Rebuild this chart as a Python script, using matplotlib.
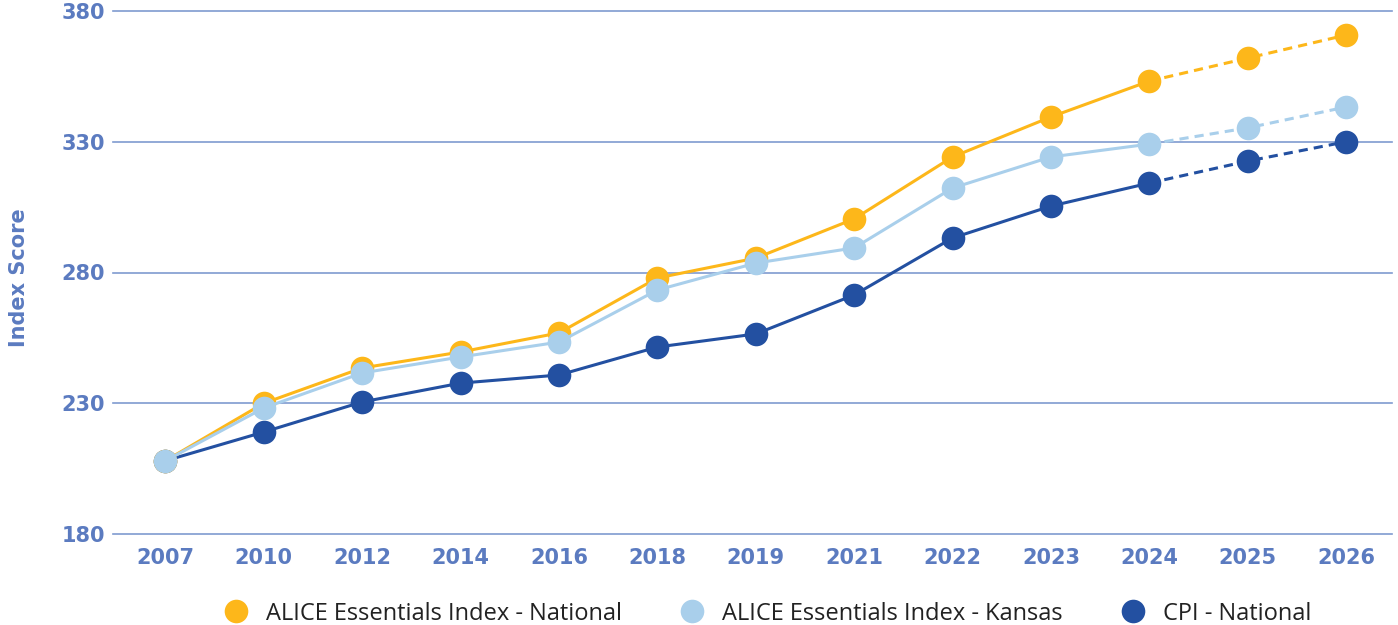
import matplotlib.pyplot as plt
from matplotlib.lines import Line2D

years = ['2007', '2010', '2012', '2014', '2016', '2018', '2019', '2021',
         '2022', '2023', '2024', '2025', '2026']
national = [208, 230, 243.5, 249.6, 256.9, 277.9, 285.5, 300.5, 324.2, 339.5, 353.2, 362, 370.8]
kansas = [208, 228.2, 241.6, 247.7, 253.4, 273.3, 283.6, 289.4, 312.3, 324.2, 329.1, 335.3, 343.3]
cpi = [208, 219, 230.5, 237.7, 240.8, 251.5, 256.5, 271.4, 293.2, 305.4, 314.2, 322.6, 330]
labels = ['ALICE Essentials Index - National', 'ALICE Essentials Index - Kansas', 'CPI - National']
colors = ['#FDB71A', '#A9CFEB', '#2350A1']
proj_start = 10  # 2024 onward is projected

fig = plt.figure(figsize=(13.98, 6.25), dpi=100)
ax = fig.add_axes([0.081, 0.1456, 0.915, 0.8368])

x = list(range(len(years)))
series = [cpi, national, kansas]
cols = [colors[2], colors[0], colors[1]]
for i, (vals, c) in enumerate(zip(series, cols)):
    z = 3 + i
    ax.plot(x[:proj_start + 1], vals[:proj_start + 1], color=c, lw=2.2, zorder=z)
    ax.plot(x[proj_start:], vals[proj_start:], color=c, lw=2.2, ls=(0, (3, 2)), zorder=z)
    ax.plot(x, vals, 'o', color=c, ms=17, mec='none', zorder=z)

ax.set_xlim(-0.53, 12.47)
ax.set_ylim(180, 380)
ax.set_yticks([180, 230, 280, 330, 380])
ax.set_xticks(x)
ax.set_xticklabels(years)
ax.grid(axis='y', color='#7F9BD0', lw=1.2)
for gl in ax.get_ygridlines():
    gl.set_clip_on(False)
ax.set_axisbelow(True)
for s in ax.spines.values():
    s.set_visible(False)
ax.tick_params(length=0, labelsize=15, labelcolor='#5B7BC0', pad=6)
ax.tick_params(axis='x', pad=10)
for t in ax.get_xticklabels() + ax.get_yticklabels():
    t.set_fontweight('bold')
ax.set_ylabel('Index Score', fontsize=15, fontweight='bold', color='#5B7BC0')
ax.yaxis.set_label_coords(-0.066, 0.49)

handles = [Line2D([], [], marker='o', ls='none', color=c, ms=17, mec='none') for c in colors]
fig.legend(handles, labels, loc='lower center', bbox_to_anchor=(0.545, -0.035), ncol=3, frameon=False,
           prop={'family': 'Open Sans', 'size': 17}, labelcolor='#222222', handletextpad=0.25,
           columnspacing=2.0)

fig.savefig('out.png', dpi=100)
